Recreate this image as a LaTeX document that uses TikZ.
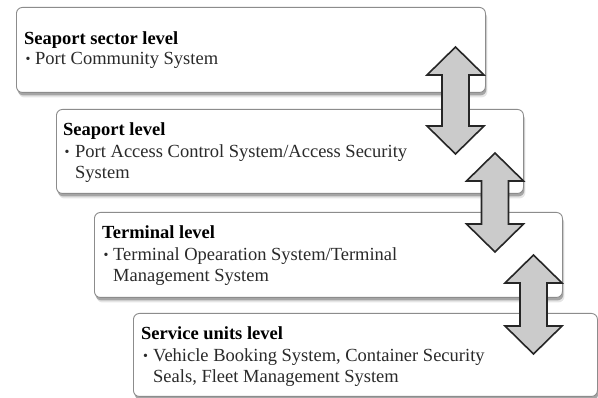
\documentclass[tikz,border=0pt]{standalone}
\usepackage{fontspec}
\setmainfont{Liberation Serif}
\usetikzlibrary{shadows}
\definecolor{boxline}{HTML}{8C8C8C}
\definecolor{arrowfill}{HTML}{CBCBCB}
\definecolor{bodytext}{HTML}{2A2A2A}
\tikzset{
  levelbox/.style={draw=boxline, line width=0.9pt, rounded corners=6pt, fill=white,
    anchor=north west, inner sep=0pt,
    drop shadow={shadow xshift=2pt, shadow yshift=-5pt, fill=black, opacity=0.10},
    drop shadow={shadow xshift=1pt, shadow yshift=-3pt, fill=black, opacity=0.28}},
  titletext/.style={anchor=base west, inner sep=0pt, font=\fontsize{18.5}{20}\selectfont\bfseries, text=black},
  bodyline/.style={anchor=base west, inner sep=0pt, font=\fontsize{18.5}{20}\selectfont, text=bodytext},
  bulletmark/.style={anchor=base west, inner sep=0pt, font=\fontsize{14}{16}\selectfont, text=bodytext},
  blockarrow/.style={draw=black!85, fill=arrowfill, line width=1.6pt, line join=miter}
}
\newcommand\levelarrow[4]{%
  \begin{scope}[shift={(#1,#2)}]
    \draw[blockarrow] (0,0) -- (28.5,28) -- (13.5,28) -- (13.5,#3-28) -- (28.5,#3-28)
      -- (0,#3) -- (-28.5,#3-28) -- (-13.5,#3-28) -- (-13.5,28) -- (-28.5,28) -- cycle;
    \coordinate (#4) at (0,#3/2);
  \end{scope}}
\begin{document}
\begin{tikzpicture}[x=1pt,y=-1pt]
  \fill[white] (0,0) rectangle (598,398);
  \useasboundingbox (0,0) rectangle (598,398);

  % boxes
  \node[levelbox, minimum width=469pt, minimum height=85pt] (b1) at (16,7) {};
  \node[levelbox, minimum width=467pt, minimum height=84pt] (b2) at (56,109) {};
  \node[levelbox, minimum width=468pt, minimum height=85pt] (b3) at (94,212) {};
  \node[levelbox, minimum width=464pt, minimum height=83pt] (b4) at (133,313) {};

  % box 1 text
  \node[titletext] (t1) at (24,45) {Seaport sector level};
  \node[bulletmark] (p1) at (25.5,64) {\textbullet};
  \node[bodyline] (l1a) at (35,65) {Port Community System};

  % box 2 text
  \node[titletext] (t2) at (63,136) {Seaport level};
  \node[bulletmark] (p2) at (64.5,157) {\textbullet};
  \node[bodyline] (l2a) at (75,158) {Port Access Control System/Access Security};
  \node[bodyline] (l2b) at (75,179) {System};

  % box 3 text
  \node[titletext] (t3) at (102,239) {Terminal level};
  \node[bulletmark] (p3) at (103.5,260) {\textbullet};
  \node[bodyline] (l3a) at (113,261) {Terminal Opearation System/Terminal};
  \node[bodyline] (l3b) at (113,282) {Management System};

  % box 4 text
  \node[titletext] (t4) at (141,340) {Service units level};
  \node[bulletmark] (p4) at (143,361) {\textbullet};
  \node[bodyline] (l4a) at (153,362) {Vehicle Booking System, Container Security};
  \node[bodyline] (l4b) at (153,383) {Seals, Fleet Management System};

  % double arrows between levels
  \levelarrow{455.5}{47}{107}{a1}
  \levelarrow{495}{153}{99}{a2}
  \levelarrow{533.5}{255}{99}{a3}
\end{tikzpicture}
\end{document}
